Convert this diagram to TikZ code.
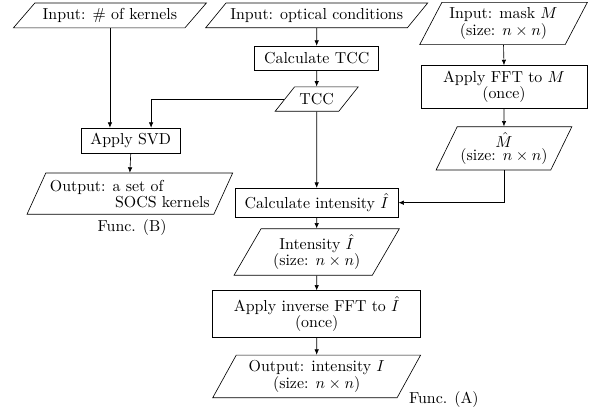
\documentclass[tikz,border=0pt]{standalone}
\usepackage{amsmath, amssymb}
\usetikzlibrary{arrows.meta,calc,shapes.geometric}

\begin{document}
\begin{tikzpicture}[
  >={Latex[length=3.4pt,width=2.8pt]},
  font=\fontsize{10}{8.6}\selectfont,
  proc/.style={draw, align=center, inner xsep=6pt, minimum height=0.54cm},
  proctall/.style={proc, minimum height=0.92cm},
  io/.style={draw, trapezium, trapezium left angle=51, trapezium right angle=129, trapezium stretches=true, align=center, inner xsep=2pt, minimum height=0.54cm},
  iotall/.style={io, trapezium left angle=64, trapezium right angle=116, minimum height=0.91cm},
  arrow/.style={->, line width=0.4pt},
  funclabel/.style={inner sep=1pt}
]
\useasboundingbox (0,0) rectangle (13.13,-9.11);

\node[io, minimum width=4.27cm] (kernels) at (2.43,-0.34) {Input: \# of kernels};
\node[io, minimum width=4.91cm] (optical) at (7.0,-0.34) {Input: optical conditions};
\node[iotall, minimum width=3.71cm] (mask) at (11.13,-0.52) {Input: mask $M$\\(size: $n\times n$)};

\node[proc] (calctcc) at (7.0,-1.29) {Calculate TCC};
\node[io, minimum width=1.84cm] (tcc) at (7.0,-2.19) {TCC};
\node[proctall, minimum width=3.67cm] (fft) at (11.14,-1.92) {Apply FFT to $M$\\(once)};
\node[iotall, minimum width=2.74cm] (mhat) at (11.14,-3.28) {$\hat{M}$\\(size: $n\times n$)};

\node[proc] (svd) at (2.89,-3.11) {Apply SVD};
\node[iotall, minimum width=4.55cm, align=left] (socs) at (2.87,-4.28) {Output: a set of\\\hspace*{41pt}SOCS kernels};
\node[funclabel] (funcb) at (2.92,-5.04) {Func. (B)};

\node[proc] (calcint) at (7.0,-4.48) {Calculate intensity $\hat{I}$};
\node[iotall, minimum width=3.67cm] (inthat) at (7.0,-5.57) {Intensity $\hat{I}$\\(size: $n\times n$)};
\node[proctall, minimum width=4.6cm] (ifft) at (7.0,-6.94) {Apply inverse FFT to $\hat{I}$\\(once)};
\node[iotall, minimum width=4.6cm] (output) at (7.0,-8.32) {Output: intensity $I$\\(size: $n\times n$)};
\node[funclabel, anchor=west] (funca) at (9.0,-8.84) {Func. (A)};

\draw[arrow] (kernels.south) -- (kernels.south |- svd.north);
\draw[arrow] (tcc.west) -| ($(svd.north)+(0.45,0)$);
\draw[arrow] (svd.south) -- (socs.north);

\draw[arrow] (optical.south) -- (calctcc.north);
\draw[arrow] (calctcc.south) -- (tcc.north);
\draw[arrow] (tcc.south) -- (calcint.north);

\draw[arrow] (mask.south) -- (fft.north);
\draw[arrow] (fft.south) -- (mhat.north);
\draw[arrow] (mhat.south) |- (calcint.east);

\draw[arrow] (calcint.south) -- (inthat.north);
\draw[arrow] (inthat.south) -- (ifft.north);
\draw[arrow] (ifft.south) -- (output.north);
\end{tikzpicture}
\end{document}
